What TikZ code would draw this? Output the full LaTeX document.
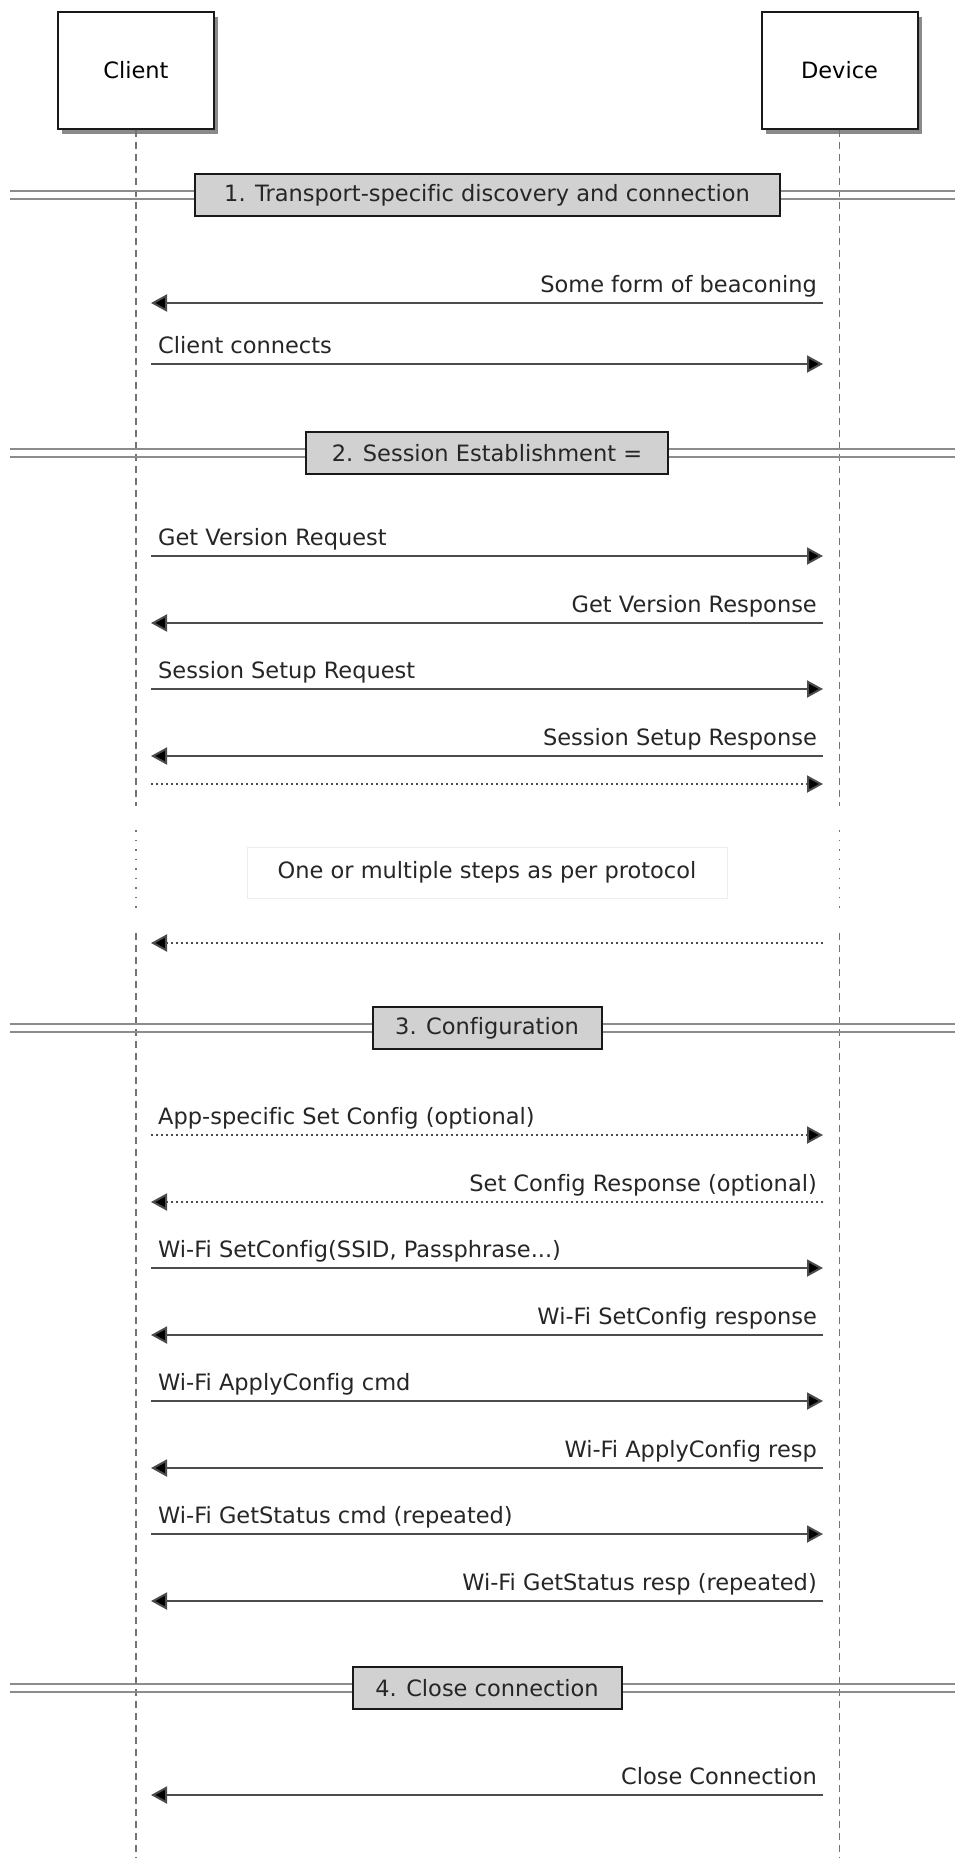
\documentclass[tikz,border=0pt]{standalone}
\usepackage{fontspec}
\setmainfont{DejaVu Sans}[Ligatures=NoCommon]
\usetikzlibrary{arrows.meta,shadows}
\tikzset{
  actor/.style={draw=black!90, line width=2pt, fill=white, minimum width=156pt, minimum height=117pt, inner sep=0pt,
    drop shadow={shadow xshift=4pt, shadow yshift=-5pt, fill=black!70, opacity=0.65}},
  life/.style={draw=black!55, line width=1.5pt, dash pattern=on 7pt off 5pt},
  lifedot/.style={draw=black!55, line width=1.5pt, dash pattern=on 1.5pt off 8pt},
  msg/.style={draw=black!70, line width=2pt, -{Triangle[length=16pt,width=17pt,fill=black]}},
  dmsg/.style={msg, dash pattern=on 2pt off 3pt},
  lblL/.style={anchor=base west, inner sep=0pt, text=black!85},
  lblR/.style={anchor=base east, inner sep=0pt, text=black!85},
  sepline/.style={draw=black!45, line width=2pt},
  sepbox/.style={draw=black!90, line width=2pt, fill=black!18, minimum height=42pt, inner sep=0pt, text=black!85},
  notebox/.style={draw=black!7, line width=1pt, fill=white, minimum width=480pt, minimum height=51pt, inner sep=0pt, text=black!85}
}
\begin{document}
\begin{tikzpicture}[x=1pt,y=-1pt,font=\fontsize{22.5}{27}\selectfont]
\useasboundingbox[fill=white] (0,0) rectangle (955,1858);

% actors
\node[actor] (client) at (136,70.5) {Client};
\node[actor] (device) at (839.5,70.5) {Device};

% y levels
\coordinate (ybot) at (0,1858);
\coordinate (yb1) at (0,806);
\coordinate (yd1) at (0,830);
\coordinate (yd2) at (0,909);
\coordinate (yb2) at (0,933);
\coordinate (lc) at (151,0);
\coordinate (rc) at (823,0);

% lifelines
\draw[life] (client.south) -- (client.south |- yb1);
\draw[lifedot] (client.south |- yd1) -- (client.south |- yd2);
\draw[life] (client.south |- yb2) -- (client.south |- ybot);
\draw[life] (device.south) -- (device.south |- yb1);
\draw[lifedot] (device.south |- yd1) -- (device.south |- yd2);
\draw[life] (device.south |- yb2) -- (device.south |- ybot);

% separators
\foreach \yy/\nm/\w/\txt in {195/sepA/585/{1. Transport-specific discovery and connection},
                            453/sepB/362/{2. Session Establishment =},
                            1028/sepC/229/{3. Configuration},
                            1688/sepD/269/{4. Close connection}}{
  \coordinate (\nm l1) at (10,\yy-4);
  \coordinate (\nm r1) at (955,\yy-4);
  \coordinate (\nm l2) at (10,\yy+4);
  \coordinate (\nm r2) at (955,\yy+4);
  \draw[sepline] (\nm l1) -- (\nm r1);
  \draw[sepline] (\nm l2) -- (\nm r2);
  \node[sepbox, minimum width=\w pt] (\nm) at (487,\yy) {\txt};
}

% note
\node[notebox] (steps) at (487,872.5) {One or multiple steps as per protocol};

% message rows
\coordinate (r1) at (0,303);
\coordinate (r2) at (0,364);
\coordinate (r3) at (0,556);
\coordinate (r4) at (0,623);
\coordinate (r5) at (0,689);
\coordinate (r6) at (0,756);
\coordinate (r7) at (0,784);
\coordinate (r8) at (0,943);
\coordinate (r9) at (0,1135);
\coordinate (r10) at (0,1202);
\coordinate (r11) at (0,1268);
\coordinate (r12) at (0,1335);
\coordinate (r13) at (0,1401);
\coordinate (r14) at (0,1468);
\coordinate (r15) at (0,1534);
\coordinate (r16) at (0,1601);
\coordinate (r17) at (0,1795);

\draw[msg] (rc |- r1) -- (lc |- r1);
\node[lblR] (t1) at (817,303-11) {Some form of beaconing};
\draw[msg] (lc |- r2) -- (rc |- r2);
\node[lblL] (t2) at (158,364-11) {Client connects};

\draw[msg] (lc |- r3) -- (rc |- r3);
\node[lblL] (t3) at (158,556-11) {Get Version Request};
\draw[msg] (rc |- r4) -- (lc |- r4);
\node[lblR] (t4) at (817,623-11) {Get Version Response};
\draw[msg] (lc |- r5) -- (rc |- r5);
\node[lblL] (t5) at (158,689-11) {Session Setup Request};
\draw[msg] (rc |- r6) -- (lc |- r6);
\node[lblR] (t6) at (817,756-11) {Session Setup Response};
\draw[dmsg] (lc |- r7) -- (rc |- r7);
\draw[dmsg] (rc |- r8) -- (lc |- r8);

\draw[dmsg] (lc |- r9) -- (rc |- r9);
\node[lblL] (t9) at (158,1135-11) {App-specific Set Config (optional)};
\draw[dmsg] (rc |- r10) -- (lc |- r10);
\node[lblR] (t10) at (817,1202-11) {Set Config Response (optional)};
\draw[msg] (lc |- r11) -- (rc |- r11);
\node[lblL] (t11) at (158,1268-11) {Wi-Fi SetConfig(SSID, Passphrase...)};
\draw[msg] (rc |- r12) -- (lc |- r12);
\node[lblR] (t12) at (817,1335-11) {Wi-Fi SetConfig response};
\draw[msg] (lc |- r13) -- (rc |- r13);
\node[lblL] (t13) at (158,1401-11) {Wi-Fi ApplyConfig cmd};
\draw[msg] (rc |- r14) -- (lc |- r14);
\node[lblR] (t14) at (817,1468-11) {Wi-Fi ApplyConfig resp};
\draw[msg] (lc |- r15) -- (rc |- r15);
\node[lblL] (t15) at (158,1534-11) {Wi-Fi GetStatus cmd (repeated)};
\draw[msg] (rc |- r16) -- (lc |- r16);
\node[lblR] (t16) at (817,1601-11) {Wi-Fi GetStatus resp (repeated)};

\draw[msg] (rc |- r17) -- (lc |- r17);
\node[lblR] (t17) at (817,1795-11) {Close Connection};
\end{tikzpicture}
\end{document}
